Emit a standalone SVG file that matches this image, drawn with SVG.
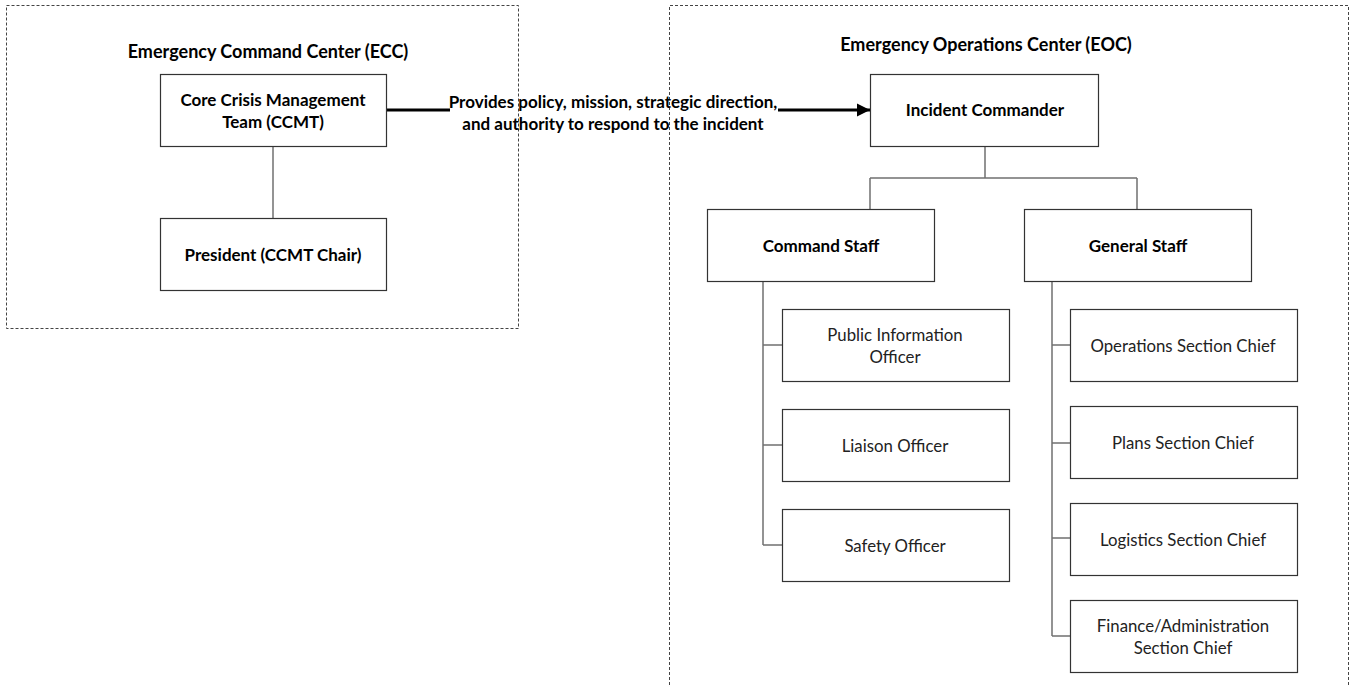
<svg xmlns="http://www.w3.org/2000/svg" width="1351" height="685" viewBox="0 0 1351 685">
<style>
.bg{fill:#ffffff}
.region{fill:none;stroke:#444;stroke-width:1;stroke-dasharray:3 2}
.box{fill:#ffffff;stroke:#333;stroke-width:1.2}
.conn{fill:none;stroke:#707070;stroke-width:1.5}
.main{fill:none;stroke:#000;stroke-width:3}
text{font-family:Lato,"Open Sans","Liberation Sans",sans-serif;text-anchor:middle;fill:#000}
.t{font-weight:bold;font-size:18px}
.b{font-weight:bold;font-size:17px}
.r{font-size:16.8px;fill:#222}
</style>
<defs>
<marker id="ah" viewBox="0 0 10 10" refX="10" refY="5" markerWidth="4.5" markerHeight="4.5" markerUnits="strokeWidth" orient="auto">
<path d="M0,0 L10,5 L0,10 Z" fill="#000"/>
</marker>
</defs>
<rect class="bg" x="0" y="0" width="1351" height="685"/>
<g id="ecc-region">
<rect class="region" x="6.5" y="5.5" width="512" height="323"/>
<text class="t" x="268" y="58">Emergency Command Center (ECC)</text>
</g>
<g id="eoc-region">
<path class="region" d="M669.5,690 V5.5 H1348.5 V690"/>
<text class="t" x="986" y="51">Emergency Operations Center (EOC)</text>
</g>
<g id="connectors">
<line class="conn" x1="273" y1="146" x2="273" y2="218"/>
<path class="conn" d="M985,146 V178 M870,178 H1137 M870,178 V209 M1137,178 V209"/>
<path class="conn" d="M763,282 V545 M763,345 H782 M763,445 H782 M763,545 H782"/>
<path class="conn" d="M1052,282 V636 M1052,345 H1070 M1052,443 H1070 M1052,538 H1070 M1052,636 H1070"/>
<line class="main" x1="387" y1="110" x2="450" y2="110"/>
<line class="main" x1="778" y1="110" x2="870" y2="110" marker-end="url(#ah)"/>
<text class="b" x="613" y="108">Provides policy, mission, strategic direction,</text>
<text class="b" x="613" y="130">and authority to respond to the incident</text>
</g>
<g id="ccmt">
<rect class="box" x="160.5" y="74.5" width="226" height="72"/>
<text class="b" x="273" y="106">Core Crisis Management</text>
<text class="b" x="273" y="128">Team (CCMT)</text>
</g>
<g id="president">
<rect class="box" x="160.5" y="218.5" width="226" height="72"/>
<text class="b" x="273" y="261">President (CCMT Chair)</text>
</g>
<g id="incident-commander">
<rect class="box" x="870.5" y="74.5" width="228" height="72"/>
<text class="b" x="985" y="116">Incident Commander</text>
</g>
<g id="command-staff">
<rect class="box" x="707.5" y="209.5" width="227" height="72"/>
<text class="b" x="821" y="252">Command Staff</text>
</g>
<g id="general-staff">
<rect class="box" x="1024.5" y="209.5" width="227" height="72"/>
<text class="b" x="1138" y="252">General Staff</text>
</g>
<g id="pio">
<rect class="box" x="782.5" y="309.5" width="227" height="72"/>
<text class="r" x="895" y="341">Public Information</text>
<text class="r" x="895" y="363">Officer</text>
</g>
<g id="liaison">
<rect class="box" x="782.5" y="409.5" width="227" height="72"/>
<text class="r" x="895" y="452">Liaison Officer</text>
</g>
<g id="safety">
<rect class="box" x="782.5" y="509.5" width="227" height="72"/>
<text class="r" x="895" y="552">Safety Officer</text>
</g>
<g id="operations">
<rect class="box" x="1070.5" y="309.5" width="227" height="72"/>
<text class="r" x="1183" y="352">Operations Section Chief</text>
</g>
<g id="plans">
<rect class="box" x="1070.5" y="406.5" width="227" height="72"/>
<text class="r" x="1183" y="449">Plans Section Chief</text>
</g>
<g id="logistics">
<rect class="box" x="1070.5" y="503.5" width="227" height="72"/>
<text class="r" x="1183" y="546">Logistics Section Chief</text>
</g>
<g id="finance">
<rect class="box" x="1070.5" y="600.5" width="227" height="72"/>
<text class="r" x="1183" y="632">Finance/Administration</text>
<text class="r" x="1183" y="654">Section Chief</text>
</g>
</svg>
